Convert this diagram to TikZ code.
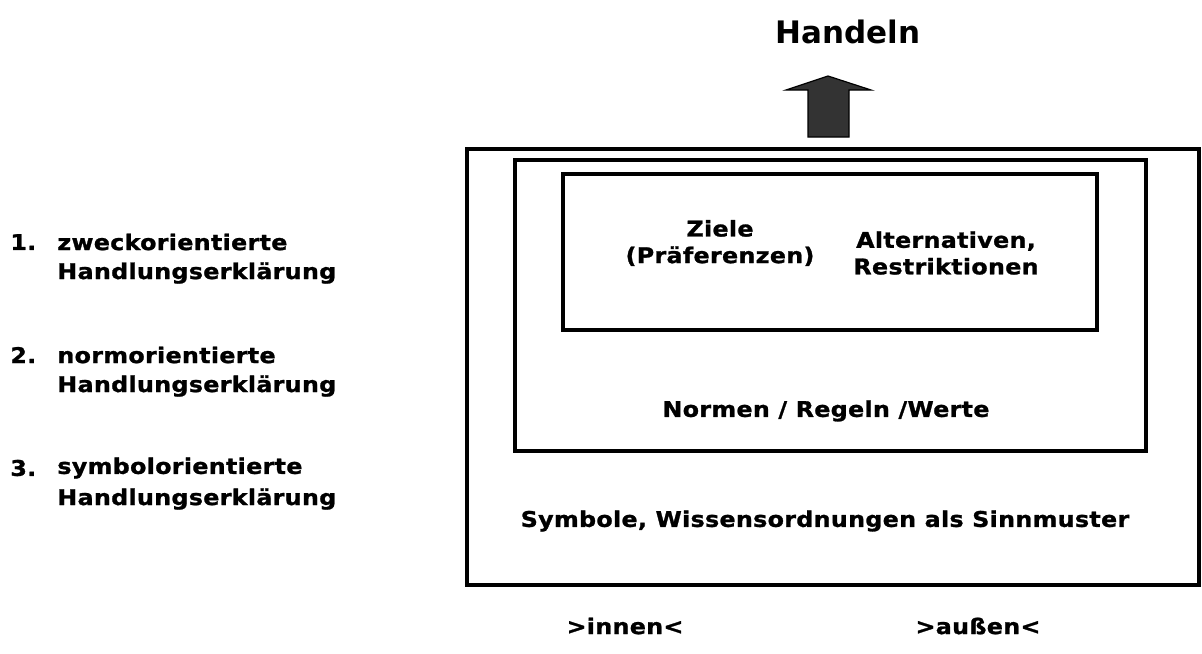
\documentclass[tikz,border=0pt]{standalone}
\usepackage{fontspec}
\setmainfont{DejaVu Sans}
\newfontfamily\widefont{DejaVu Sans}[FakeStretch=1.1, LetterSpace=1.5, BoldFeatures={FakeBold=1.2}]
\usepackage{tikz}
\usetikzlibrary{positioning,calc}
\definecolor{arrowgray}{HTML}{333333}

\begin{document}
\begin{tikzpicture}[
  x=0.5pt, y=-0.5pt,
  box/.style={
    line width=2pt,
    draw=black,
  },
  label/.style={
    font=\widefont\bfseries\fontsize{10.8}{13.3}\selectfont,
    align=center,
    inner sep=0pt,
  }]
  \useasboundingbox (0,0) rectangle (1202,653);
  % the three frames
  \draw[box] (467,149) rectangle (1199,585);
  \draw[box] (515,160) rectangle (1146,451);
  \draw[box] (563,174) rectangle (1097,330);
  % arrow up to Handeln
  \coordinate (base) at (828,137);
  \fill[arrowgray, draw=black, line width=0.6pt]
    ($(base)+(-20,0)$) -- ($(base)+(-20,-47)$) -- ($(base)+(-42,-47)$)
    -- (828,76) -- ($(base)+(43,-47)$) -- ($(base)+(21,-47)$)
    -- ($(base)+(21,0)$) -- cycle;
  \node[inner sep=0pt, font=\bfseries\fontsize{15.5}{18}\selectfont] (handeln) at (848,32) {Handeln};
  % inner texts
  \node[label] (ziele) at (720,243) {Ziele\\(Präferenzen)};
  \node[label] (alt) at (946,253) {Alternativen,\\Restriktionen};
  \node[label] (normen) at (826,411) {Normen / Regeln /Werte};
  \node[label] (symbole) at (825,521) {Symbole, Wissensordnungen als Sinnmuster};
  \node[label] (innen) at (625,626) {>innen<};
  \node[label] (aussen) at (978,626) {>außen<};
  % list on the left
  \foreach \n/\w/\y in
  {1/zweckorientierte/242, 2/normorientierte/355, 3/symbolorientierte/468}
  {
    \node[label, anchor=west] (num\n) at (10,\y) {\n.};
    \node[label, anchor=west] (word\n) at (57,\y) {\w};
    \node[label, anchor=west] (expl\n) at (57,\y+31) {Handlungserklärung};
  }
\end{tikzpicture}
\end{document}
